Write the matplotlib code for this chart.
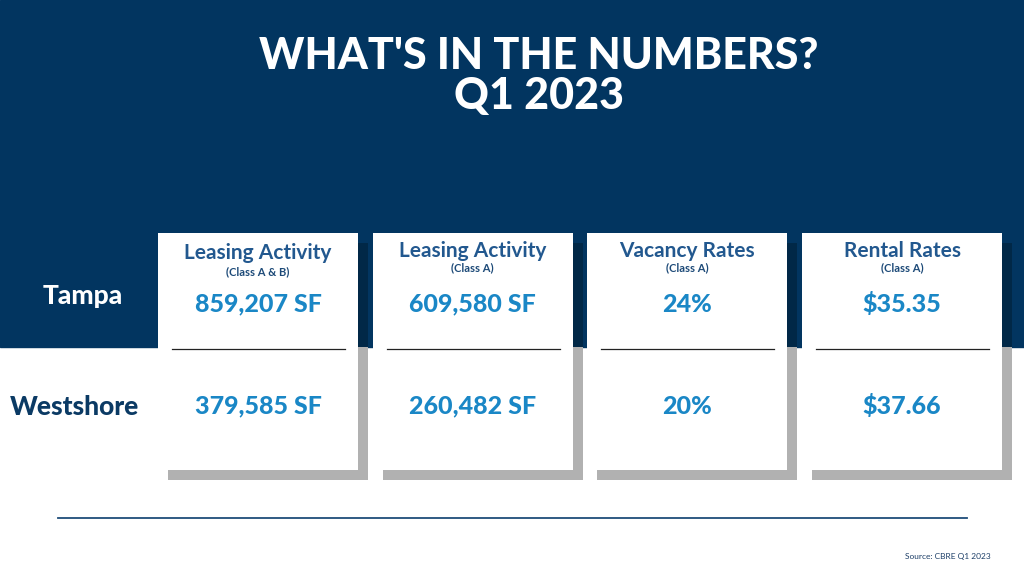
import matplotlib
matplotlib.use("Agg")
import matplotlib.pyplot as plt
from matplotlib.patches import Rectangle

# ---- data ----
categories = ["Leasing Activity", "Leasing Activity", "Vacancy Rates", "Rental Rates"]
subtitles = ["(Class A & B)", "(Class A)", "(Class A)", "(Class A)"]
row_labels = ["Tampa", "Westshore"]
tampa_values = ["859,207 SF", "609,580 SF", "24%", "$35.35"]
westshore_values = ["379,585 SF", "260,482 SF", "20%", "$37.66"]
title_lines = ["WHAT'S IN THE NUMBERS?", "Q1 2023"]
source_text = "Source: CBRE Q1 2023"

# ---- styles ----
NAVY = "#023560"
NAVY_SHADOW = "#012847"
GRAY_SHADOW = "#b1b1b1"
HEAD = "#22588f"
SUB = "#1d4a78"
VAL = "#1a87c6"
FONT = ["Lato", "DejaVu Sans"]
plt.rcParams['font.family'] = FONT

fig = plt.figure(figsize=(10.24, 5.76), dpi=100)
ax = fig.add_axes([0, 0, 1, 1])
ax.set_xlim(0, 1024)
ax.set_ylim(576, 0)
ax.axis("off")

# background
ax.add_patch(Rectangle((0, 0), 1024, 347, color=NAVY, zorder=0))

# title
ax.text(539, 56, title_lines[0], ha="center", va="center", color="white",
        fontsize=31, fontweight=900)
ax.text(539, 96, title_lines[1], ha="center", va="center", color="white",
        fontsize=31, fontweight=900)

card_x0 = 158
card_step = 214.7
card_w = 200
card_top = 233
card_bot = 470
split_y = 347
off = 10
head_y = [253, 251, 251, 251]
sub_y = [272, 268, 268, 268]

for i, cat in enumerate(categories):
    x = card_x0 + i * card_step
    # shadow: dark part over navy, gray part over white
    ax.add_patch(Rectangle((x + off, card_top + off), card_w, split_y - card_top - off,
                           color=NAVY_SHADOW, zorder=1, lw=0))
    ax.add_patch(Rectangle((x + off, split_y), card_w, card_bot + off - split_y,
                           color=GRAY_SHADOW, zorder=1, lw=0))
    # card
    ax.add_patch(Rectangle((x, card_top), card_w, card_bot - card_top,
                           color="white", zorder=2, lw=0))
    cx = x + card_w / 2
    ax.text(cx, head_y[i], cat, ha="center", va="center", color=HEAD,
            fontsize=15, fontweight="bold", zorder=3)
    ax.text(cx, sub_y[i], subtitles[i], ha="center", va="center", color=SUB,
            fontsize=8, fontweight="bold", zorder=3)
    ax.text(cx, 304, tampa_values[i], ha="center", va="center", color=VAL,
            fontsize=18, fontweight=900, zorder=3)
    ax.text(cx, 406, westshore_values[i], ha="center", va="center", color=VAL,
            fontsize=18, fontweight=900, zorder=3)
    ax.plot([x + 14, x + card_w - 13], [348.5, 348.5], color="#222222", lw=0.9, zorder=3)

# row labels
ax.text(82.5, 296, row_labels[0], ha="center", va="center", color="white",
        fontsize=19, fontweight=900)
ax.text(74.5, 407, row_labels[1], ha="center", va="center", color="#0b3a64",
        fontsize=19, fontweight=900)

# bottom line
ax.plot([58, 967], [518, 518], color="#1f4d79", lw=1.3)

ax.text(948, 557, source_text, ha="center", va="center", color="#1d3f68",
        fontsize=6)

fig.savefig("out.png", dpi=100)
